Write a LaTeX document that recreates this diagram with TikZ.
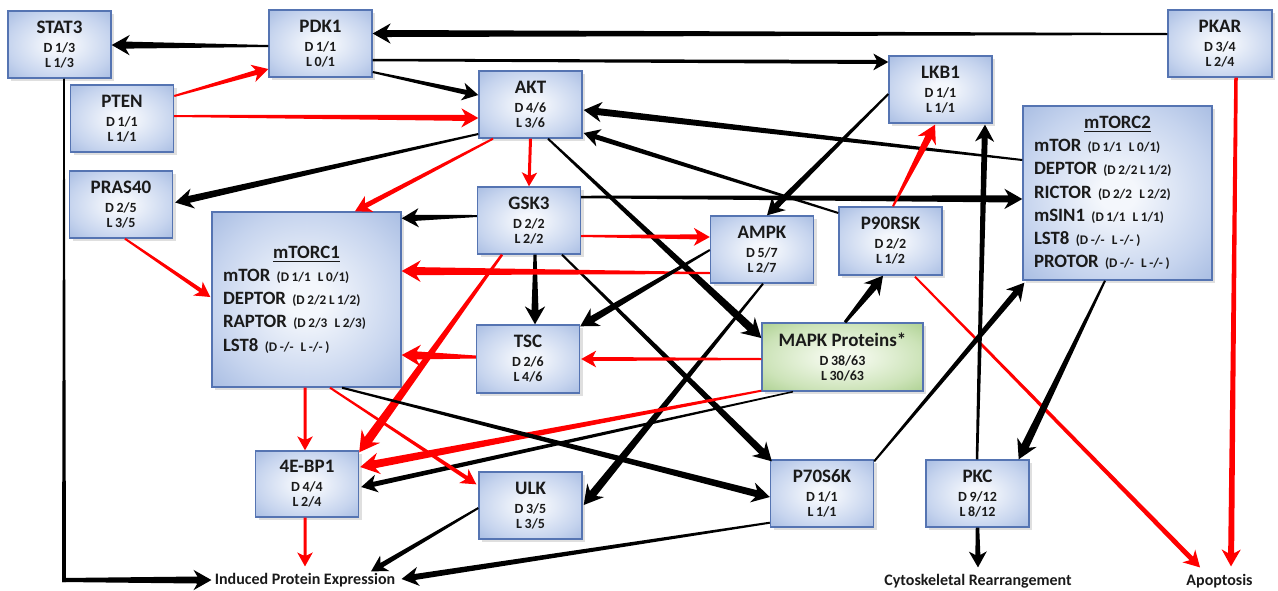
\documentclass[tikz,border=0pt]{standalone}
\usepackage{fontspec}
\setmainfont{Carlito}
\usetikzlibrary{calc,shadows}
\definecolor{bxline}{HTML}{5574B2}
\definecolor{bxin}{HTML}{F4F7FC}
\definecolor{bxmid}{HTML}{C6D4EE}
\definecolor{bxout}{HTML}{A2B8E0}
\definecolor{gnin}{HTML}{F3F9EC}
\definecolor{gnmid}{HTML}{CCE3B8}
\definecolor{gnout}{HTML}{A7CD8A}
\definecolor{arred}{HTML}{FF0000}
\definecolor{txt}{HTML}{1A1A1A}
\pgfdeclareradialshading{bxshade}{\pgfpoint{0bp}{0bp}}{color(0bp)=(bxin); color(5bp)=(bxin); color(25bp)=(bxmid); color(38bp)=(bxout); color(50bp)=(bxout)}
\pgfdeclareradialshading{gnshade}{\pgfpoint{0bp}{0bp}}{color(0bp)=(gnin); color(5bp)=(gnin); color(25bp)=(gnmid); color(38bp)=(gnout); color(50bp)=(gnout)}

% tapered arrow: #1 style, #2 from, #3 to, #4 start width (px), #5 end width (px)
\newcommand\tarr[5]{%
 \pgfmathsetmacro\twa{0.25*#4}%
 \pgfmathsetmacro\twb{0.25*#5}%
 \pgfmathsetmacro\thl{0.5*(11+1.0*#5)}%
 \pgfmathsetmacro\thw{0.5*(6+0.6*#5)}%
 \pgfmathsetmacro\tnl{0.78*\thl}%
 \path (#2) coordinate (tA) (#3) coordinate (tB);
 \path ($(tB)!\thl pt!(tA)$) coordinate (tH) ($(tB)!\tnl pt!(tA)$) coordinate (tN);
 \fill[#1] ($(tA)!\twa pt!90:(tB)$) -- ($(tN)!\twb pt!-90:(tA)$) -- ($(tH)!\thw pt!-90:(tA)$) -- (tB) -- ($(tH)!\thw pt!90:(tA)$) -- ($(tN)!\twb pt!90:(tA)$) -- ($(tA)!\twa pt!-90:(tB)$) -- cycle;
}
% tapered segment without head
\newcommand\tseg[5]{%
 \pgfmathsetmacro\twa{0.25*#4}%
 \pgfmathsetmacro\twb{0.25*#5}%
 \path (#2) coordinate (tA) (#3) coordinate (tB);
 \fill[#1] ($(tA)!\twa pt!90:(tB)$) -- ($(tB)!\twb pt!-90:(tA)$) -- ($(tB)!\twb pt!90:(tA)$) -- ($(tA)!\twa pt!-90:(tB)$) -- cycle;
}
\newcommand\tightsp{\spaceskip=1.3pt\relax}
\newcommand\boxtxt[3]{{\fontsize{9.5}{10}\selectfont\spaceskip=0pt\relax #1}\\[2pt]#2\\#3}
\newcommand\smtxt[1]{{\fontsize{6.6}{7}\selectfont\tightsp #1}}
\newcommand\dsp{\hspace{3.6pt}}
\newcommand\ctitle[1]{\hbox to\hsize{\hfil\underline{#1}\hfil}}

\tikzset{
 box/.style={draw=bxline, line width=0.7pt, shading=bxshade, shade,
   drop shadow={opacity=0.25, shadow xshift=1.5pt, shadow yshift=-1.5pt},
   minimum width=51.5pt, minimum height=33.5pt, inner sep=0pt, align=center,
   text=txt, font=\fontsize{7}{7.5}\selectfont\bfseries\tightsp},
 gbox/.style={box, shading=gnshade},
 cbox/.style={box, minimum width=94.5pt, minimum height=87.5pt, text width=83.5pt,
   align=left, font=\fontsize{9.4}{11.6}\selectfont\bfseries},
 lbl/.style={inner sep=0pt, text height=5.6pt, text depth=1.6pt, text=txt,
   font=\fontsize{8}{9}\selectfont\bfseries},
 blk/.style={fill=black},
 rd/.style={fill=arred},
}

\begin{document}
\begin{tikzpicture}[x=0.5pt,y=-0.5pt]
\useasboundingbox (0,0) rectangle (1278,590);

% nodes
\node[box] (stat3) at (59.5,44.5) {\boxtxt{STAT3}{D 1/3}{L 1/3}};
\node[box] (pdk1) at (320.5,43.5) {\boxtxt{PDK1}{D 1/1}{L 0/1}};
\node[box] (pten) at (122,118.5) {\boxtxt{PTEN}{D 1/1}{L 1/1}};
\node[box] (pras40) at (121,204.5) {\boxtxt{PRAS40}{D 2/5}{L 3/5}};
\node[box] (akt) at (530.5,104.5) {\boxtxt{AKT}{D 4/6}{L 3/6}};
\node[box] (gsk3) at (529,220.5) {\boxtxt{GSK3}{D 2/2}{L 2/2}};
\node[box] (lkb1) at (940.5,89.5) {\boxtxt{LKB1}{D 1/1}{L 1/1}};
\node[box, minimum width=52pt] (pkar) at (1220,43.5) {\boxtxt{PKAR}{D 3/4}{L 2/4}};
\node[box, minimum height=34pt] (p90rsk) at (890.5,241) {\boxtxt{P90RSK}{D 2/2}{L 1/2}};
\node[box] (ampk) at (762,249.5) {\boxtxt{AMPK}{D 5/7}{L 2/7}};
\node[gbox, minimum width=80.5pt, minimum height=34pt] (mapk) at (842.5,357) {\boxtxt{MAPK Proteins*}{D 38/63}{L 30/63}};
\node[box, minimum height=34pt] (tsc) at (528,359) {\boxtxt{TSC}{D 2/6}{L 4/6}};
\node[box, minimum height=33pt] (ebp1) at (307,484) {\boxtxt{4E-BP1}{D 4/4}{L 2/4}};
\node[box] (ulk) at (530.5,505.5) {\boxtxt{ULK}{D 3/5}{L 3/5}};
\node[box] (p70) at (822,493.5) {\boxtxt{P70S6K}{D 1/1}{L 1/1}};
\node[box] (pkc) at (977.5,493.5) {\boxtxt{PKC}{D 9/12}{L 8/12}};
\node[cbox] (mtorc1) at (306.5,299.5) {\ctitle{mTORC1}\\mTOR \smtxt{(D 1/1\dsp{}L 0/1)}\\DEPTOR \smtxt{(D 2/2 L 1/2)}\\RAPTOR \smtxt{(D 2/3\dsp{}L 2/3)}\\LST8 \smtxt{(D -/-\dsp{}L -/- )}};
\node[cbox, minimum height=87pt] (mtorc2) at (1117.5,193) {\ctitle{mTORC2}\\mTOR \smtxt{(D 1/1\dsp{}L 0/1)}\\DEPTOR \smtxt{(D 2/2 L 1/2)}\\RICTOR \smtxt{(D 2/2\dsp{}L 2/2)}\\mSIN1 \smtxt{(D 1/1\dsp{}L 1/1)}\\LST8 \smtxt{(D -/-\dsp{}L -/- )}\\PROTOR \smtxt{(D -/-\dsp{}L -/- )}};

\node[lbl] (ipe) at (305,580) {Induced Protein Expression};
\node[lbl] (cyto) at (978,581) {Cytoskeletal Rearrangement};
\node[lbl] (apop) at (1219.5,581) {Apoptosis};

% connectors
\tarr{blk}{$(pkar.west)+(0,-9.5)$}{$(pdk1.east)+(0,-10)$}{2}{7}
\tarr{blk}{$(pdk1.west)+(0,2.5)$}{$(stat3.east)+(0,0.5)$}{2}{7}
\tarr{blk}{$(pdk1.east)+(0,16.5)$}{$(lkb1.west)+(0,-27.5)$}{2.5}{4}
\tarr{blk}{$(pdk1.east)+(0,28.5)$}{$(akt.west)+(0,-9.5)$}{2}{5}
\tarr{rd}{$(pten.east)+(0,-22.5)$}{$(pdk1.west)+(0,25.5)$}{2}{5}
\tarr{rd}{$(pten.east)+(0,-2.5)$}{$(akt.west)+(0,13.5)$}{2}{6}
\tarr{blk}{$(akt.west)+(0,29.5)$}{$(pras40.east)+(2,-2)$}{2}{7}
\tarr{rd}{$(akt.south)+(-37.5,0)$}{$(mtorc1.north)+(48.5,0)$}{2}{5}
\tarr{rd}{akt.south}{gsk3.north}{3}{3}
\tarr{blk}{$(akt.south)+(17.5,0)$}{$(mapk.west)+(0,-19)$}{2}{8}
\tarr{blk}{$(mtorc2.west)+(0,-33)$}{$(akt.east)+(1,5.5)$}{2}{7}
\tarr{blk}{$(p90rsk.west)+(0,-28)$}{$(akt.east)+(1,28.5)$}{2}{5}
\tarr{blk}{$(lkb1.west)+(0,4.5)$}{$(ampk.north)+(5,0)$}{2}{6}
\tarr{blk}{$(gsk3.east)+(0,-23.5)$}{$(mtorc2.west)+(0,6)$}{2.5}{7}
\tarr{blk}{$(gsk3.west)+(0,-4.5)$}{$(mtorc1.north east)+(0,7)$}{2}{6}
\tarr{rd}{$(gsk3.east)+(0,15.5)$}{$(ampk.west)+(0,-12.5)$}{2}{5}
\tarr{blk}{$(gsk3.south)+(6,0)$}{$(tsc.north)+(7,0)$}{3}{7}
\tarr{rd}{$(gsk3.south)+(-27,0)$}{$(ebp1.north east)+(0,2)$}{2.5}{9}
\tarr{blk}{$(gsk3.south)+(33,0)$}{$(p70.north west)+(2,2)$}{2}{7}
\tarr{rd}{$(ampk.west)+(0,23.5)$}{$(mtorc1.east)+(0,-28.5)$}{2}{8}
\tarr{blk}{$(ampk.west)+(0,0.5)$}{$(tsc.north east)+(0,2)$}{2}{7}
\tarr{blk}{$(ampk.south)+(1,0)$}{$(ulk.east)+(1,-0.5)$}{2}{8}
\tarr{blk}{$(mapk.north)+(2.5,0)$}{$(p90rsk.south)+(-7.5,0)$}{3}{7}
\tarr{rd}{$(mapk.west)+(0,2)$}{$(tsc.east)+(1,0)$}{2}{4}
\tarr{rd}{$(mapk.south west)+(0,-1)$}{$(ebp1.east)+(1,-17)$}{2}{8}
\tarr{blk}{$(mapk.south)+(-49.5,0)$}{$(ebp1.east)+(2,3)$}{1.5}{5}
\tarr{rd}{$(tsc.west)+(0,-2)$}{$(mtorc1.east)+(0,55.5)$}{3}{8}
\tarr{rd}{$(pras40.south)+(4,0)$}{$(mtorc1.west)+(-1,-2.5)$}{2}{4}
\tarr{rd}{$(mtorc1.south)+(-1.5,0)$}{$(ebp1.north)+(-2,0)$}{3}{3}
\tarr{rd}{$(mtorc1.south)+(23.5,0)$}{$(ulk.north west)+(-2,13)$}{2}{4}
\tarr{blk}{$(mtorc1.south)+(35.5,0)$}{$(p70.west)+(0,3.5)$}{2}{7}
\tarr{rd}{$(p90rsk.north)+(2.5,0)$}{$(lkb1.south)+(-5.5,1)$}{2}{7}
\tarr{rd}{$(p90rsk.south)+(24.5,1)$}{$(apop.north)+(-19.5,-6)$}{2}{5}
\tarr{rd}{$(pkar.south)+(16,0)$}{$(apop.north)+(11.5,-7)$}{3.5}{6}
\tarr{blk}{$(pkc.north)+(-0.5,0)$}{$(lkb1.south)+(44.5,1)$}{2.5}{6}
\tarr{blk}{$(mtorc2.south)+(-12.5,0)$}{$(pkc.north east)+(-11,0)$}{2}{8}
\tarr{blk}{$(p70.north east)+(0,2)$}{$(mtorc2.south west)+(2,2)$}{2}{6}
\tarr{blk}{pkc.south}{$(cyto.north)+(0,-6)$}{3.5}{5}
\tarr{rd}{$(ebp1.south)+(-2,0)$}{$(ipe.north)+(0,-6)$}{3}{3}
\tarr{blk}{$(ulk.west)+(0,2.5)$}{$(ipe.north)+(66,-1)$}{2}{5}
\tarr{blk}{$(p70.south west)+(0,-5)$}{$(ipe.east)+(6,-1)$}{2}{6}
% STAT3 elbow connector
\path ($(stat3.south)+(4.5,0)$) coordinate (s3b);
\coordinate (s3c) at (s3b |- ipe.west);
\path ($(s3c)+(0,2)$) coordinate (s3d) ($(s3c)+(-2,0)$) coordinate (s3e);
\tseg{blk}{s3b}{s3d}{1.5}{4}
\tarr{blk}{s3e}{$(ipe.west)+(-3,0)$}{4}{7}
\end{tikzpicture}
\end{document}
